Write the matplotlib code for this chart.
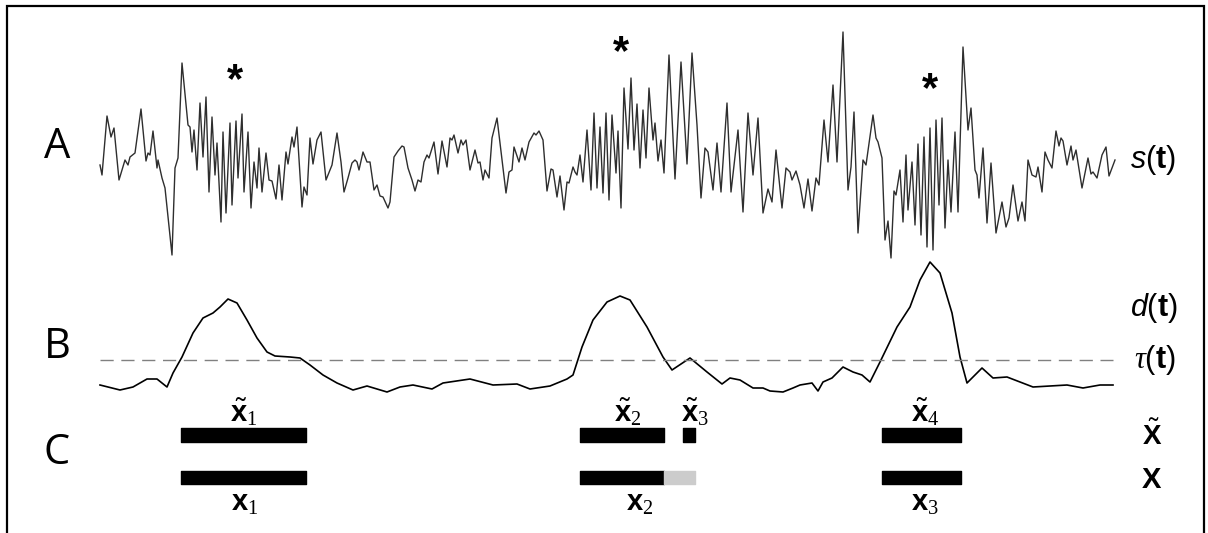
import matplotlib
matplotlib.use("Agg")
import matplotlib.pyplot as plt

# mathtext: bold sans letters, serif subscripts, sans italic s/d, serif italic tau
plt.rcParams['mathtext.fontset'] = 'custom'
plt.rcParams['mathtext.rm'] = 'Liberation Sans'
plt.rcParams['mathtext.it'] = 'Liberation Serif:italic'
plt.rcParams['mathtext.bf'] = 'Liberation Sans:bold'
plt.rcParams['mathtext.sf'] = 'Liberation Sans:italic'
plt.rcParams['mathtext.cal'] = 'Liberation Serif'

# --- datos ---
# A: senal s(t) (tiempo en muestras, amplitud arbitraria)
t_s = [100, 102, 107, 111, 114, 119, 125, 128, 130, 135, 141, 146, 148, 150, 153, 157, 158, 162, 165, 172,
       175, 178, 182, 188, 190, 192, 194, 197, 200, 203, 206, 209, 212, 215, 217, 221, 223, 226, 230, 232,
       236, 238, 242, 244, 248, 251, 254, 257, 259, 262, 266, 269, 272, 276, 279, 282, 286, 288, 292, 294,
       297, 302, 304, 307, 310, 313, 317, 321, 326, 332, 337, 341, 344, 348, 352, 355, 357, 359, 363, 367,
       370, 374, 377, 380, 383, 388, 390, 394, 398, 402, 404, 408, 412, 415, 418, 421, 424, 427, 429, 434,
       438, 442, 447, 450, 452, 454, 458, 461, 463, 466, 470, 475, 478, 480, 483, 485, 489, 492, 497, 502,
       506, 509, 512, 514, 519, 522, 525, 529, 534, 536, 539, 543, 547, 551, 553, 557, 560, 564, 567, 569,
       573, 575, 577, 580, 583, 587, 591, 594, 597, 600, 603, 606, 609, 612, 616, 618, 621, 624, 628, 631,
       634, 637, 640, 643, 646, 649, 653, 655, 658, 661, 664, 669, 675, 681, 687, 692, 697, 701, 705, 708,
       713, 717, 721, 727, 731, 738, 743, 748, 753, 758, 763, 768, 772, 776, 782, 786, 790, 792, 796, 800,
       804, 808, 812, 816, 819, 824, 828, 833, 837, 843, 848, 851, 854, 858, 863, 866, 873, 876, 878, 882,
       885, 888, 891, 894, 896, 900, 903, 906, 908, 912, 915, 918, 921, 924, 927, 930, 933, 936, 939, 942,
       945, 948, 951, 955, 958, 963, 968, 971, 975, 977, 979, 983, 987, 991, 996, 1002, 1006, 1009, 1013, 1018,
       1022, 1025, 1028, 1032, 1036, 1038, 1042, 1045, 1048, 1052, 1056, 1059, 1061, 1063, 1067, 1071, 1073, 1076, 1082, 1088,
       1091, 1093, 1097, 1102, 1106, 1109, 1115]
s_val = [5, -5, 54, 33, 42, -10, 10, 5, 13, 17, 61, 9, 17, 15, 39, 2, 10, -8, -18, -85,
         2, 12, 107, 45, 43, 18, 40, 0, 67, 13, 73, -22, 53, -5, 27, -52, 38, -43, 47, -35,
         49, -8, 56, -22, 38, -38, 8, -18, 22, -22, 17, -10, -11, -29, 5, -30, 18, 6, 33, 23,
         43, -37, -17, -25, 32, 6, 30, 38, -10, 5, 37, 8, -22, -8, 7, 10, 8, 0, 18, 8,
         8, -20, -15, -26, -27, -38, -32, 13, 19, 24, 23, 2, -10, -21, -10, -12, 8, 15, 12, 28,
         -4, 29, 3, 32, 30, 35, 17, 30, 25, 30, 0, 20, 7, 8, -10, 0, -8, 32, 52, 10,
         -23, -2, 0, 23, 8, 22, 10, 28, 37, 35, 39, 30, -21, 1, 0, -27, -6, -40, -12, -13,
         3, -2, -5, 15, -12, 40, -20, 57, -18, 43, -23, 57, -30, 55, -3, 39, -38, 82, 21, 92,
         20, 66, 2, 60, 12, 82, 30, 47, 9, 30, -3, 115, -9, 108, 6, 117, 45, -28, 22, 18,
         -20, 27, -22, 67, -22, 40, -42, 57, -5, 52, -43, -19, -32, 20, -38, 2, -2, -10, -1, -15,
         -38, -9, -41, -8, -15, 50, 8, 85, 8, 138, -20, 3, 58, -63, 10, 5, 55, 32, 28, 12,
         -70, -51, -88, -21, -25, 0, -52, 15, -40, 8, -55, 26, -65, 33, -77, 42, -80, 50, -35, 52,
         -58, 10, -42, 38, -42, 123, 40, 62, 0, -5, -28, 22, -53, 7, -63, -32, -57, -48, -15, -51,
         -32, -51, 10, -5, -7, 3, -22, 18, 10, 2, 39, 24, 32, 29, 5, 24, 10, 20, -18, 12,
         -4, -2, -8, 15, 23, -6, 10]

# B: funcion de deteccion d(t) y umbral tau(t)
t_d = [100, 120, 133, 147, 157, 167, 173, 182, 193, 203, 213, 220, 228, 237, 247, 257, 267, 275, 290, 300,
       310, 323, 337, 353, 367, 387, 400, 413, 432, 443, 470, 493, 517, 530, 550, 567, 573, 582, 593, 607,
       620, 630, 647, 663, 672, 690, 707, 722, 730, 740, 753, 763, 770, 783, 793, 800, 812, 818, 823, 832,
       843, 853, 862, 870, 880, 897, 910, 920, 930, 940, 952, 960, 967, 982, 993, 1007, 1020, 1033, 1050, 1067,
       1083, 1100, 1113]
d_val = [5, 0, 3, 11, 11, 3, 17, 33, 57, 72, 77, 83, 91, 87, 70, 52, 38, 34, 33, 32,
         25, 15, 7, 0, 4, -2, 3, 5, 1, 7, 11, 5, 6, 1, 4, 11, 15, 43, 70, 88,
         94, 90, 63, 33, 20, 32, 18, 6, 12, 10, 2, 2, -1, -2, 2, 5, 7, -1, 8, 12,
         23, 18, 15, 8, 28, 63, 83, 110, 128, 117, 77, 33, 7, 22, 12, 13, 8, 3, 4, 5,
         2, 5, 5]
tau = 30

# C: intervalos detectados (x tilde) y eventos finales (x)
xt_start = [181, 580, 683, 882]
xt_end = [306, 664, 695, 961]
x_start = [181, 580, 882]
x_end = [306, 664, 961]
x_ext_start = [664]   # parte anadida al fusionar x2 con x3 tilde
x_ext_end = [695]

W, H = 1208, 533
A_BASE, B_BASE = 363, 143
ROW_XT, ROW_X, BAR_H = 98, 55.5, 13.5

fig = plt.figure(figsize=(W / 100, H / 100), dpi=100)
ax = fig.add_axes([0, 0, 1, 1])
ax.set_xlim(0, W)
ax.set_ylim(0, H)
ax.axis('off')

# marco (sin linea inferior)
ax.plot([7, 7, 1204, 1204], [0, 527, 527, 0], color='black', lw=1.6, solid_joinstyle='miter')

# A
ax.plot(t_s, [A_BASE + v for v in s_val], color='#2e2e2e', lw=1.0, solid_joinstyle='round')

# B
ax.plot(t_d, [B_BASE + v for v in d_val], color='black', lw=1.2, solid_joinstyle='round')
ax.plot([t_d[0], t_d[-1]], [B_BASE + tau] * 2, color='#808080', lw=1.0, dashes=(9.5, 5.5))

# C
ax.broken_barh([(a, b - a) for a, b in zip(xt_start, xt_end)], (ROW_XT - BAR_H / 2, BAR_H), color='black')
ax.broken_barh([(a, b - a) for a, b in zip(x_start, x_end)], (ROW_X - BAR_H / 2, BAR_H), color='black')
ax.broken_barh([(a, b - a) for a, b in zip(x_ext_start, x_ext_end)], (ROW_X - BAR_H / 2, BAR_H), color='#cccccc')

# letras de panel
for letra, yy in zip(['A', 'B', 'C'], [386, 186, 80]):
    ax.text(57, yy, letra, fontsize=30, family='Open Sans', ha='center', va='center')

# etiquetas de la derecha
ax.text(1153, 373, r'$\mathsf{s}(\mathbf{t})$', fontsize=22, ha='center', va='center')
ax.text(1154, 225, r'$\mathsf{d}(\mathbf{t})$', fontsize=22, ha='center', va='center')
ax.text(1155, 173, r'$\tau(\mathbf{t})$', fontsize=22, ha='center', va='center')
ax.text(1152, 97, r'$\tilde{\mathbf{X}}$', fontsize=20, ha='center', va='center')
ax.text(1152, 53, r'$\mathbf{X}$', fontsize=21, ha='center', va='center')

# etiquetas de intervalos
lab_xt = [r'$\tilde{\mathbf{x}}_{\mathcal{1}}$', r'$\tilde{\mathbf{x}}_{\mathcal{2}}$',
          r'$\tilde{\mathbf{x}}_{\mathcal{3}}$', r'$\tilde{\mathbf{x}}_{\mathcal{4}}$']
for lab, xx in zip(lab_xt, [244, 628, 695, 925]):
    ax.text(xx, 121, lab, fontsize=21, ha='center', va='center')
lab_x = [r'$\mathbf{x}_{\mathcal{1}}$', r'$\mathbf{x}_{\mathcal{2}}$', r'$\mathbf{x}_{\mathcal{3}}$']
for lab, xx in zip(lab_x, [245, 640, 925]):
    ax.text(xx, 30, lab, fontsize=21, ha='center', va='center')

# asteriscos sobre los eventos
for xx, yy in zip([235, 621, 930], [452, 480, 443]):
    ax.text(xx, yy, '*', fontsize=30, family='Liberation Sans', weight='bold', ha='center', va='center')

fig.savefig('out.png', dpi=100)
